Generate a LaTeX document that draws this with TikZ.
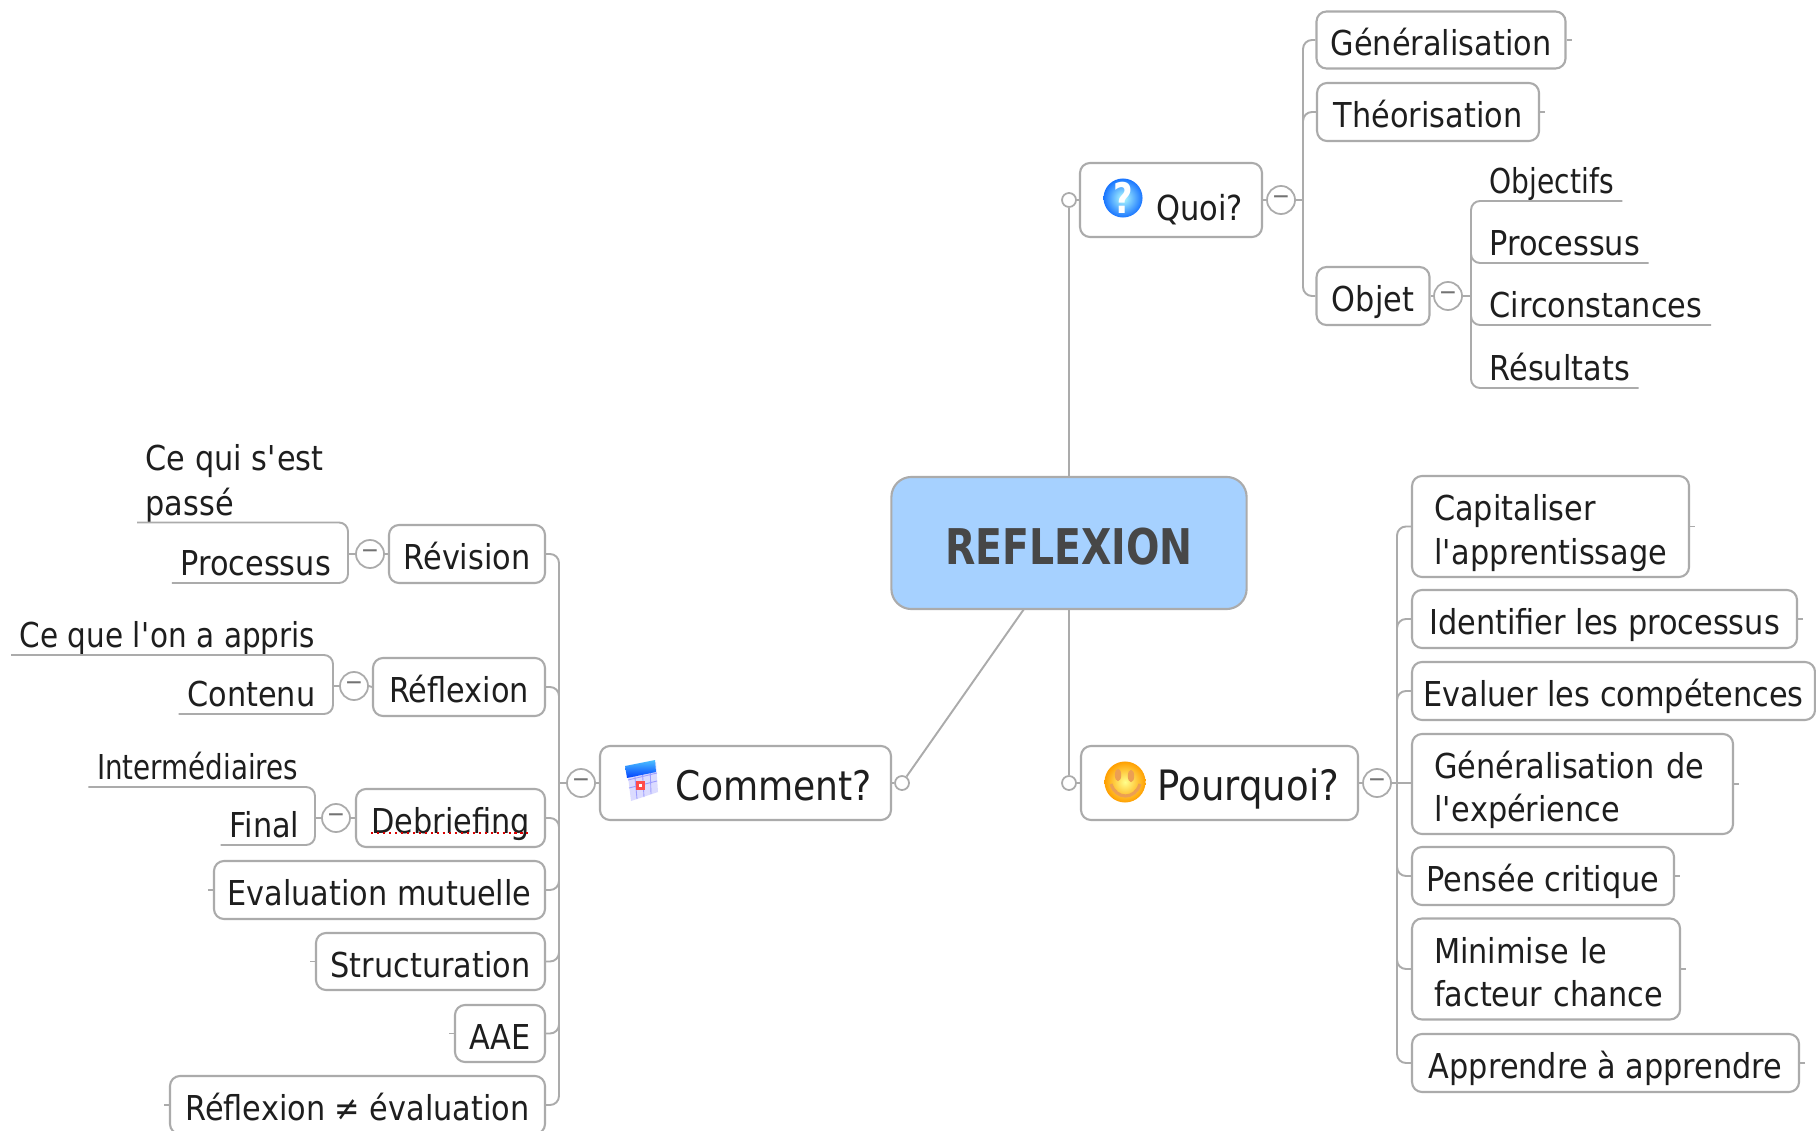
\documentclass[tikz,border=0pt]{standalone}
\usepackage{fontspec}
\setmainfont[FakeStretch=0.885,BoldFeatures={FakeStretch=0.80}]{DejaVu Sans}
\usepackage{xcolor}
\usetikzlibrary{shapes.geometric}
\definecolor{linegray}{HTML}{ABABAB}
\definecolor{rootblue}{HTML}{A6D1FF}
\definecolor{inkgray}{HTML}{1E1E1E}
\tikzset{
    branch/.style={draw=linegray,line width=.55pt,rounded corners=.09cm},
    topicbox/.style={draw=linegray,line width=.6pt,fill=white,rounded corners=.1cm,inner sep=0pt,text=inkgray},
    subtopic/.style 2 args={topicbox,font=\fontsize{9.75}{12.3}\selectfont,text height=8.9pt,text depth=0pt,minimum width=#1*0.01cm,minimum height=#2*0.01cm},
    twotopic/.style 2 args={topicbox,font=\fontsize{9.75}{12.3}\selectfont,align=left,inner xsep=.22cm,text width=#1*0.01cm-0.44cm,minimum height=#2*0.01cm,
        execute at begin node={\rule{0pt}{11.4pt}},execute at end node={\rule[-2.3pt]{0pt}{2.3pt}}},
    maintopic/.style 2 args={topicbox,font=\fontsize{11.6}{14}\selectfont,align=right,inner xsep=.19cm,text height=9.8pt,text depth=0pt,text width=#1*0.01cm-0.38cm,minimum height=#2*0.01cm},
    leaftopic/.style={inner xsep=.08cm,inner ysep=.065cm,text depth=0pt,text=inkgray,font=\fontsize{9.75}{12.8}\selectfont,align=left},
    narrowleaf/.style={font=\fontsize{9.75}{12.8}\selectfont\addfontfeatures{FakeStretch=#1}},
    collapse/.style={draw=linegray,line width=.5pt,fill=white,circle,minimum size=.28cm,inner sep=0pt,text=black!55,font=\fontsize{7}{7}\selectfont},
    opendot/.style={draw=linegray,line width=.5pt,fill=white,circle,minimum size=.14cm,inner sep=0pt},
}
\begin{document}
\begin{tikzpicture}[x=0.01cm,y=-0.01cm]
    \useasboundingbox (0,0) rectangle (1816,1131);
    % root
    \node[topicbox,fill=rootblue,rounded corners=.2cm,minimum width=3.55cm,minimum height=1.32cm,text=black!72,font=\fontsize{14}{16}\selectfont\bfseries,text height=12pt,text depth=0pt] (root) at (1069,543) {REFLEXION};
    \coordinate (rootc) at (1024,609);
    % quoi
    \node[maintopic={182}{74},font=\fontsize{9.8}{12}\selectfont,text height=11.4pt] (quoi) at (1171,200) {Quoi?};
    \node[opendot] (oq) at (1069,200) {};
    \node[collapse] (cq) at (1281,200) {−};
    \coordinate (tq) at (1303,200);
    \node[subtopic={249}{57}] (gen) at (1441,40) {Généralisation};
    \node[subtopic={222}{58}] (the) at (1428,112) {Théorisation};
    \node[subtopic={113}{58}] (obj) at (1373,296) {Objet};
    \node[collapse] (co) at (1448,296) {−};
    \coordinate (to) at (1471,296);
    \node[leaftopic,narrowleaf=0.82,anchor=south west] (objf) at (1481,201) {Objectifs};
    \node[leaftopic,anchor=south west] (proc) at (1481,263) {Processus};
    \node[leaftopic,anchor=south west] (circ) at (1481,325) {Circonstances};
    \node[leaftopic,anchor=south west] (resu) at (1481,388) {Résultats};
    \draw[branch] (root.north) -- (oq.south);
    \draw[branch] (oq.east) -- (quoi.west);
    \draw[branch] (quoi.east) -- (cq.west);
    \draw[branch] (cq.east) -- (tq);
    \draw[branch] (gen.west) -- (gen.west -| tq) -- (obj.west -| tq) -- (obj.west);
    \draw[branch] (the.west) -- (the.west -| tq) -- ++(0,16);
    \draw[branch] (obj.east) -- (co.west);
    \draw[branch] (co.east) -- (to);
    \draw[branch] (objf.south east) -- (objf.south -| to) -- (resu.south -| to) -- (resu.south east);
    \draw[branch] (proc.south east) -- (proc.south -| to) -- ++(0,-16);
    \draw[branch] (circ.south east) -- (circ.south -| to) -- ++(0,-16);
    % pourquoi
    \node[maintopic={277}{74},font=\fontsize{11.9}{14}\selectfont] (pour) at (1219.5,783) {Pourquoi?};
    \node[opendot] (op) at (1069,783) {};
    \node[collapse] (cp) at (1377,783) {−};
    \coordinate (tp) at (1397,783);
    \node[twotopic={277}{101}] (capi) at (1550.5,526.5) {Capitaliser\\l\textquotesingle apprentissage};
    \node[subtopic={385}{58}] (iden) at (1604.5,619) {Identifier les processus};
    \node[subtopic={403}{58}] (eval) at (1613.5,691) {Evaluer les compétences};
    \node[twotopic={321}{100}] (gexp) at (1572.5,784) {Généralisation de\\l\textquotesingle expérience};
    \node[subtopic={262}{58}] (pens) at (1543,876) {Pensée critique};
    \node[twotopic={268}{101}] (mini) at (1546,969) {Minimise le\\facteur~chance};
    \node[subtopic={387}{58}] (appr) at (1605.5,1063) {Apprendre à apprendre};
    \draw[branch] (root.south -| op) -- (op.north);
    \draw[branch] (op.east) -- (pour.west);
    \draw[branch] (pour.east) -- (cp.west);
    \draw[branch] (cp.east) -- (gexp.west |- cp);
    \draw[branch] (capi.west) -- (capi.west -| tp) -- (appr.west -| tp) -- (appr.west);
    \foreach \n in {iden,eval} \draw[branch] (\n.west) -- (\n.west -| tp) -- ++(0,16);
    \foreach \n in {pens,mini} \draw[branch] (\n.west) -- (\n.west -| tp) -- ++(0,-16);
    % comment
    \node[maintopic={291}{74}] (comm) at (745.5,783) {Comment?};
    \node[opendot] (oc) at (902,783) {};
    \node[collapse] (cc) at (581,783) {−};
    \coordinate (tc) at (559,783);
    \node[subtopic={156}{58}] (revi) at (467,554) {Révision};
    \node[subtopic={172}{58}] (refl) at (459,687) {Réflexion};
    \node[subtopic={189}{58}] (debr) at (450.5,818) {Debriefing};
    \node[subtopic={331}{58}] (evam) at (379.5,890) {Evaluation mutuelle};
    \node[subtopic={229}{57}] (stru) at (430.5,961.5) {Structuration};
    \node[subtopic={90}{57}] (aae) at (500,1033.5) {AAE};
    \node[subtopic={375}{58}] (rfev) at (357.5,1105) {Réflexion ≠ évaluation};
    \draw[branch] (rootc) -- (oc);
    \draw[branch] (oc.west) -- (comm.east);
    \draw[branch] (comm.west) -- (cc.east);
    \draw[branch] (cc.west) -- (tc);
    \draw[branch] (revi.east) -- (revi.east -| tc) -- (rfev.east -| tc) -- (rfev.east);
    \foreach \n in {refl,debr} \draw[branch] (\n.east) -- (\n.east -| tc) -- ++(0,16);
    \foreach \n in {evam,stru,aae} \draw[branch] (\n.east) -- (\n.east -| tc) -- ++(0,-16);
    \draw[red!85!black,densely dotted,line width=.7pt] (371,833) -- (528,833);
    % revision
    \node[collapse] (cr) at (370,554) {−};
    \coordinate (tr) at (348,554);
    \node[leaftopic,anchor=south west] (qui) at (137,522.5) {Ce qui s\textquotesingle est\\passé};
    \node[leaftopic,anchor=south east] (prev) at (339.5,583) {Processus};
    \draw[branch] (revi.west) -- (cr.east);
    \draw[branch] (cr.west) -- (tr);
    \draw[branch] (qui.south west) -- (qui.south -| tr) -- (prev.south -| tr) -- (prev.south west);
    % reflexion
    \node[collapse] (cf) at (354,686) {−};
    \coordinate (tf) at (333,686);
    \node[leaftopic,narrowleaf=0.86,anchor=south east] (appris) at (324,655) {Ce que l\textquotesingle on a appris};
    \node[leaftopic,anchor=south east] (cont) at (324,714) {Contenu};
    \draw[branch] (refl.west) -- (cf.east);
    \draw[branch] (cf.west) -- (tf);
    \draw[branch] (appris.south west) -- (appris.south -| tf) -- (cont.south -| tf) -- (cont.south west);
    % debriefing
    \node[collapse] (cd) at (336,818) {−};
    \coordinate (td) at (315,818);
    \node[leaftopic,narrowleaf=0.81,anchor=south east] (inte) at (307,787) {Intermédiaires};
    \node[leaftopic,anchor=south east] (fina) at (308,845) {Final};
    \draw[branch] (debr.west) -- (cd.east);
    \draw[branch] (cd.west) -- (td);
    \draw[branch] (inte.south west) -- (inte.south -| td) -- (fina.south -| td) -- (fina.south west);
    % ticks on the free side
    \foreach \n in {gen,the,capi,iden,eval,gexp,pens,mini,appr} \draw[branch] (\n.east) -- ++(5,0);
    \foreach \n in {evam,stru,aae,rfev} \draw[branch] (\n.west) -- ++(-5,0);
    % icons
    \shade[inner color=cyan!30!white,outer color=blue!60!cyan!90] (1123,198) circle (.195cm);
    \node[text=white,inner sep=0pt,font=\fontsize{12}{12}\selectfont\bfseries] (qmark) at (1123,198) {?};
    \fill[blue!14] (627,768) -- (656,762) -- (658,792) -- (631,801) -- cycle;
    \draw[blue!38,line width=.25pt] (634,767) -- (637,799) (642,765) -- (644,797) (650,764) -- (651,794)
        (628,780) -- (657,773) (629,788) -- (657,781);
    \shade[top color=blue!35!cyan!70,bottom color=blue!75!cyan] (625,766) -- (655,760) -- (656,772) -- (627,778) -- cycle;
    \fill[red!70] (636,781) rectangle (645,790);
    \fill[white] (639,784) rectangle (642,787);
    \shade[inner color=yellow!45!white,outer color=orange!75!yellow] (1125,782) circle (.205cm);
    \fill[orange!60!brown!75] (1118,775) ellipse (.032cm and .062cm) (1131,776) ellipse (.032cm and .062cm);
    \draw[orange!60!brown!75,line width=.9pt] (1111,784) .. controls (1116,800) and (1135,800) .. (1140,784);
\end{tikzpicture}
\end{document}
